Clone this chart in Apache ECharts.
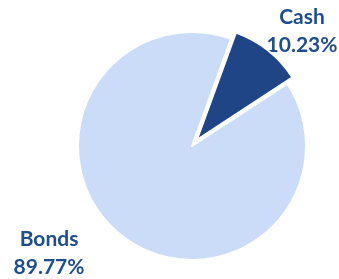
<!DOCTYPE html>
<html>
<head>
<meta charset="utf-8">
<script src="https://cdn.jsdelivr.net/npm/echarts@6/dist/echarts.min.js"></script>
<style>
  html, body { margin: 0; padding: 0; background: #fff; }
  #chart { width: 339px; height: 279px; }
</style>
</head>
<body>
<div id="chart"></div>
<script>
// slice names / values (percent)
var categories = ['Cash', 'Bonds'];
var values = [10.23, 89.77];
var colors = ['#1F4587', '#CADCF8'];

// where each label sits (centre of the two-line block)
var labelSpots = [[302, 31], [49, 253]];

var chart = echarts.init(document.getElementById('chart'));

// data labels: name on one line, share on the next
var labels = categories.map(function (name, i) {
  return {
    type: 'text',
    x: labelSpots[i][0],
    y: labelSpots[i][1],
    silent: true,
    style: {
      text: name + '\n' + values[i].toFixed(2) + '%',
      fontFamily: 'Lato',
      fontWeight: 'bold',
      fontSize: 21,
      lineHeight: 28,
      fill: '#1F4E8C',
      align: 'center',
      verticalAlign: 'middle'
    }
  };
});

chart.setOption({
  animation: false,
  graphic: labels,
  series: [{
    type: 'pie',
    center: [192, 146],
    radius: ['0%', 114],
    startAngle: 70,
    clockwise: true,
    selectedMode: 'single',
    selectedOffset: 8,
    itemStyle: {
      borderColor: '#fff',
      borderWidth: 2
    },
    emphasis: { disabled: true },
    label: { show: false },
    labelLine: { show: false },
    data: categories.map(function (name, i) {
      return {
        name: name,
        value: values[i],
        selected: i === 0,
        itemStyle: { color: colors[i] }
      };
    })
  }]
});
</script>
</body>
</html>
